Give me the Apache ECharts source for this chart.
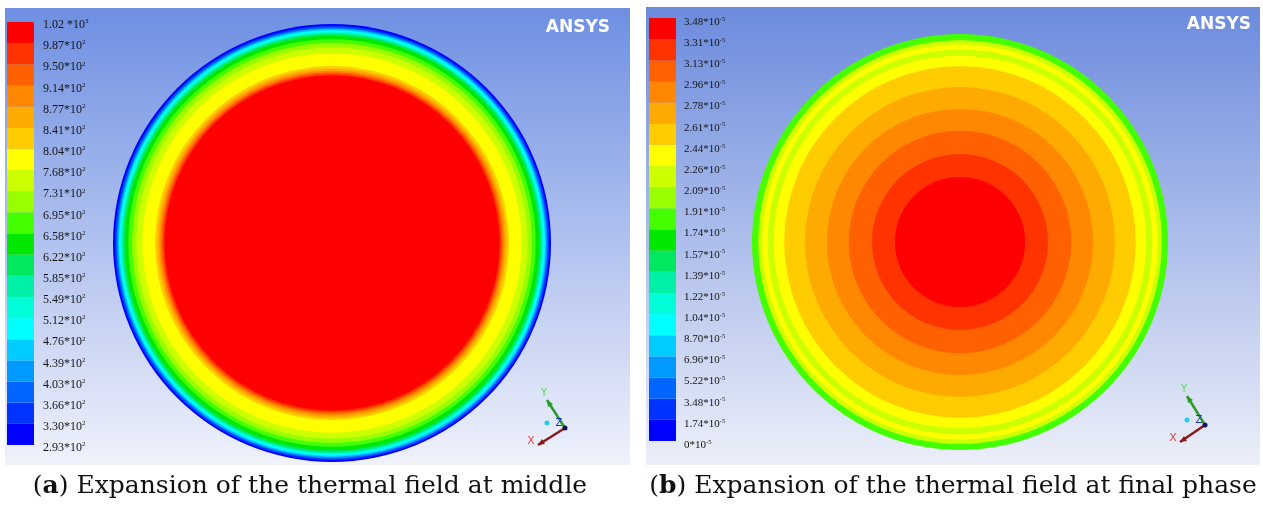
<!DOCTYPE html>
<html>
<head>
<meta charset="utf-8">
<script src="https://cdn.jsdelivr.net/npm/echarts@6/dist/echarts.min.js"></script>
<style>
html,body{margin:0;padding:0;background:#fff;}
#chart{width:1263px;height:505px;}
</style>
</head>
<body>
<div id="chart"></div>
<script>
// ---------- DATA ----------
// Legend tick labels (top -> bottom), '^' marks the exponent
const ticksA = ['1.02 *10^3','9.87*10^2','9.50*10^2','9.14*10^2','8.77*10^2','8.41*10^2','8.04*10^2',
  '7.68*10^2','7.31*10^2','6.95*10^2','6.58*10^2','6.22*10^2','5.85*10^2','5.49*10^2','5.12*10^2',
  '4.76*10^2','4.39*10^2','4.03*10^2','3.66*10^2','3.30*10^2','2.93*10^2'];
const ticksB = ['3.48*10^-5','3.31*10^-5','3.13*10^-5','2.96*10^-5','2.78*10^-5','2.61*10^-5','2.44*10^-5',
  '2.26*10^-5','2.09*10^-5','1.91*10^-5','1.74*10^-5','1.57*10^-5','1.39*10^-5','1.22*10^-5','1.04*10^-5',
  '8.70*10^-5','6.96*10^-5','5.22*10^-5','3.48*10^-5','1.74*10^-5','0*10^-5'];
// Contour level index of each legend box (0 = lowest band, 19 = highest band)
const levels = [0,1,2,3,4,5,6,7,8,9,10,11,12,13,14,15,16,17,18,19];
// Contour bands of plate (a), from the rim inwards: [outer radius (fraction of plate radius), level]
const bandRadiusA = [1.000,0.992,0.986,0.981,0.977,0.972,0.966,0.960,0.954,0.946,0.930,0.913,0.893,0.866,0.808,0.797,0.788,0.780,0.773,0.765];
const bandLevelA  = [0,1,2,3,4,5,6,7,8,9,10,11,12,13,14,15,16,17,18,19];
// Contour bands of plate (b)
const bandRadiusB = [1.000,0.970,0.950,0.925,0.895,0.845,0.745,0.640,0.535,0.423,0.313];
const bandLevelB  = [10,12,13,12,13,14,15,16,17,18,19];

// ---------- STYLE ----------
const levelColors = ['#0000ff','#0033ff','#0066ff','#0099ff','#00ccff','#00ffff','#00ffd8','#00f0a8','#00e860','#00e800',
  '#44ff00','#99ff00','#ccff00','#ffff00','#ffcc00','#ffaa00','#ff8800','#ff6000','#ff3300','#ff0000'];

function richTick(s){
  const p = s.split('^');
  return '{m|' + p[0] + '}{s|' + p[1] + '}';
}
function ringItem(params, api){
  const cs = params.coordSys;
  const p = api.coord([api.value(0), 0]);
  const r = Math.hypot(p[0]-cs.cx, p[1]-cs.cy);
  return {type:'circle', shape:{cx:cs.cx, cy:cs.cy, r:r}, style:{fill: levelColors[api.value(1)]}};
}
function boxItem(params, api){
  const p0 = api.coord([0, api.value(0)]);
  const p1 = api.coord([1, api.value(0)+1]);
  return {type:'rect', shape:{x:p0[0], y:p1[1], width:p1[0]-p0[0], height:p0[1]-p1[1]},
          style:{fill: levelColors[api.value(0)]}};
}

const chart = echarts.init(document.getElementById('chart'), null, {renderer:'canvas'});

function bgRect(x,y,w,h,top,bottom){
  return {type:'rect', z:-10, shape:{x:x,y:y,width:w,height:h},
    style:{fill:new echarts.graphic.LinearGradient(0,0,0,1,[{offset:0,color:top},{offset:1,color:bottom}])}, silent:true};
}
function triad(ox, oy, yx, yy, xx, xy){
  return [
    {type:'line', z:100, shape:{x1:ox,y1:oy,x2:yx,y2:yy}, style:{stroke:'#2a9a2a', lineWidth:2.5}},
    {type:'polygon', z:100, shape:{points:[[yx,yy],[yx+1,yy+7],[yx+6,yy+4]]}, style:{fill:'#2a9a2a'}},
    {type:'text', z:100, x:yx-3, y:yy-7, style:{text:'Y', fill:'#55dd55', font:'10px DejaVu Sans', textAlign:'center', textVerticalAlign:'middle'}},
    {type:'line', z:100, shape:{x1:ox,y1:oy,x2:xx,y2:xy}, style:{stroke:'#8a1a1a', lineWidth:2.5}},
    {type:'polygon', z:100, shape:{points:[[xx,xy],[xx+7,xy-1],[xx+4,xy-6]]}, style:{fill:'#8a1a1a'}},
    {type:'text', z:100, x:xx-7, y:xy-4, style:{text:'X', fill:'#ee4444', font:'11px DejaVu Sans', textAlign:'center', textVerticalAlign:'middle'}},
    {type:'text', z:100, x:ox-6, y:oy-5, style:{text:'Z', fill:'#2233cc', font:'10px DejaVu Sans', textAlign:'center', textVerticalAlign:'middle'}},
    {type:'circle', z:100, shape:{cx:ox, cy:oy, r:2.5}, style:{fill:'#101060'}},
    {type:'circle', z:100, shape:{cx:ox-18, cy:oy-5, r:2.5}, style:{fill:'#22ccee'}}
  ];
}

const capStyle = {fontFamily:'DejaVu Serif', fontSize:25, fontWeight:'normal', color:'#111',
  rich:{b:{fontFamily:'DejaVu Serif', fontSize:25, fontWeight:'bold', color:'#111'}}};
const option = {
  animation:false,
  title:[
    {text:'({b|a}) Expansion of the thermal field at middle', left:305, top:469, textAlign:'center', textStyle:capStyle},
    {text:'({b|b}) Expansion of the thermal field at final phase', left:948, top:469, textAlign:'center', textStyle:capStyle}
  ],
  polar:[
    {center:[332,243], radius:219},
    {center:[960,242], radius:208}
  ],
  angleAxis:[
    {polarIndex:0, min:0, max:360, show:false},
    {polarIndex:1, min:0, max:360, show:false}
  ],
  radiusAxis:[
    {polarIndex:0, min:0, max:1, show:false},
    {polarIndex:1, min:0, max:1, show:false}
  ],
  grid:[
    {left:7, top:22, width:27, height:423},
    {left:649, top:18, width:27, height:423}
  ],
  xAxis:[
    {gridIndex:0, type:'value', min:0, max:1, show:false},
    {gridIndex:1, type:'value', min:0, max:1, show:false}
  ],
  yAxis:[
    {gridIndex:0, type:'value', min:0, max:20, interval:1, position:'right',
     axisLine:{show:false}, axisTick:{show:false}, splitLine:{show:false},
     axisLabel:{margin:9, showMinLabel:true, showMaxLabel:true, padding:[6,0,0,0],
       formatter:v=>richTick(ticksA[20-v]),
       rich:{m:{fontFamily:'Liberation Serif', fontSize:12, color:'#151515', lineHeight:14},
             s:{fontFamily:'Liberation Serif', fontSize:7, color:'#151515', lineHeight:14, verticalAlign:'top'}}}},
    {gridIndex:1, type:'value', min:0, max:20, interval:1, position:'right',
     axisLine:{show:false}, axisTick:{show:false}, splitLine:{show:false},
     axisLabel:{margin:8, showMinLabel:true, showMaxLabel:true, padding:[8,0,0,0],
       formatter:v=>richTick(ticksB[20-v]),
       rich:{m:{fontFamily:'Liberation Serif', fontSize:11, color:'#151515', lineHeight:13},
             s:{fontFamily:'Liberation Serif', fontSize:6.5, color:'#151515', lineHeight:13, verticalAlign:'top'}}}}
  ],
  series:[
    {type:'custom', coordinateSystem:'polar', polarIndex:0, renderItem:ringItem, silent:true,
     data: bandRadiusA.map((r,i)=>[r, bandLevelA[i]])},
    {type:'custom', coordinateSystem:'polar', polarIndex:1, renderItem:ringItem, silent:true,
     data: bandRadiusB.map((r,i)=>[r, bandLevelB[i]])},
    {type:'custom', coordinateSystem:'cartesian2d', xAxisIndex:0, yAxisIndex:0, renderItem:boxItem, silent:true,
     data: levels.map(l=>[l])},
    {type:'custom', coordinateSystem:'cartesian2d', xAxisIndex:1, yAxisIndex:1, renderItem:boxItem, silent:true,
     data: levels.map(l=>[l])}
  ],
  graphic:[
    bgRect(5,8,625,457,'#6e8fe2','#f0f2fb'),
    bgRect(646,7,614,458,'#6c8bdd','#eceff9'),
    {type:'text', z:100, x:610, y:28, style:{text:'ANSYS', fill:'#ffffff', font:'bold 17px "DejaVu Sans"', textAlign:'right', textVerticalAlign:'middle'}},
    {type:'text', z:100, x:1251, y:25, style:{text:'ANSYS', fill:'#ffffff', font:'bold 17px "DejaVu Sans"', textAlign:'right', textVerticalAlign:'middle'}},
    ...triad(565,428,547,400,538,445),
    ...triad(1205,425,1187,396,1180,442)
  ]
};
chart.setOption(option);
</script>
</body>
</html>
